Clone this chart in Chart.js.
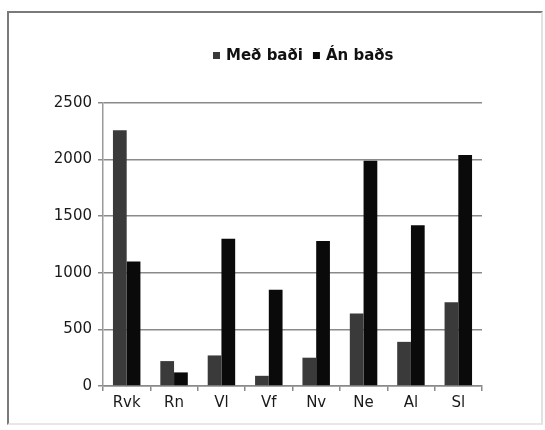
<!DOCTYPE html>
<html>
<head>
<meta charset="utf-8">
<script src="https://cdn.jsdelivr.net/npm/chart.js@4.4.1/dist/chart.umd.min.js"></script>
<style>
  html, body { margin: 0; padding: 0; background: #fff; }
  #wrap { position: relative; width: 545px; height: 430px; }
  #frame {
    position: absolute; left: 7px; top: 11px; width: 532px; height: 410px;
    border-left: 2px solid #7a7a7a; border-top: 2px solid #7a7a7a;
    border-right: 2px solid #e2e2e2; border-bottom: 2px solid #e8e8e8;
    pointer-events: none;
  }
  canvas { position: absolute; left: 0; top: 0; }
</style>
</head>
<body>
<div id="wrap">
  <canvas id="c" width="545" height="430"></canvas>
  <div id="frame"></div>
</div>
<script>
// Regions
const categories = ['Rvk', 'Rn', 'Vl', 'Vf', 'Nv', 'Ne', 'Al', 'Sl'];
// Series
const seriesNames = ['Með baði', 'Án baðs'];
const withBath = [2260, 220, 270, 90, 250, 640, 390, 740];
const withoutBath = [1100, 120, 1300, 850, 1280, 1990, 1420, 2040];
// Value axis
const yTicks = [0, 500, 1000, 1500, 2000, 2500];

const seriesColors = ['#3a3a3a', '#0a0a0a'];
const FONT = 'DejaVu Sans';

// Legend drawn above the plot: small squares followed by bold labels
const topLegend = {
  id: 'topLegend',
  afterDraw(chart) {
    const ctx = chart.ctx;
    ctx.save();
    ctx.font = 'bold 15px "' + FONT + '"';
    ctx.textBaseline = 'middle';
    ctx.textAlign = 'left';
    let x = 213;
    const y = 56;
    chart.data.datasets.forEach((ds) => {
      ctx.fillStyle = ds.backgroundColor;
      ctx.fillRect(x, y - 4, 7, 7);
      x += 13;
      ctx.fillStyle = '#111';
      ctx.fillText(ds.label, x, y);
      x += ctx.measureText(ds.label).width + 10;
    });
    ctx.restore();
  }
};

new Chart(document.getElementById('c'), {
  type: 'bar',
  data: {
    labels: categories,
    datasets: [
      { label: seriesNames[0], data: withBath, backgroundColor: seriesColors[0] },
      { label: seriesNames[1], data: withoutBath, backgroundColor: seriesColors[1] }
    ]
  },
  options: {
    responsive: false,
    animation: false,
    devicePixelRatio: 1,
    layout: { padding: { left: 0, right: 63, top: 103, bottom: 14 } },
    datasets: { bar: { categoryPercentage: 0.58, barPercentage: 1.0 } },
    plugins: {
      legend: { display: false },
      tooltip: { enabled: false }
    },
    scales: {
      x: {
        afterFit(s) { s.height = 30; },
        grid: {
          offset: true,
          drawOnChartArea: false,
          drawTicks: true,
          tickLength: 5,
          color: '#8a8a8a',
          lineWidth: 1.5
        },
        border: { display: true, color: '#8a8a8a', width: 1.5 },
        ticks: {
          color: '#1a1a1a',
          padding: 3,
          font: { family: FONT, size: 15 }
        }
      },
      y: {
        min: 0,
        max: 2500,
        afterFit(s) { s.width = 103; },
        afterBuildTicks(s) { s.ticks = yTicks.map(v => ({ value: v })); },
        grid: {
          color: '#8a8a8a',
          lineWidth: 1.5,
          drawTicks: true,
          tickLength: 5
        },
        border: { display: true, color: '#9a9a9a', width: 1.5 },
        ticks: {
          color: '#1a1a1a',
          padding: 6,
          font: { family: FONT, size: 15 },
          callback: (v) => String(v)
        }
      }
    }
  },
  plugins: [topLegend]
});
</script>
</body>
</html>
